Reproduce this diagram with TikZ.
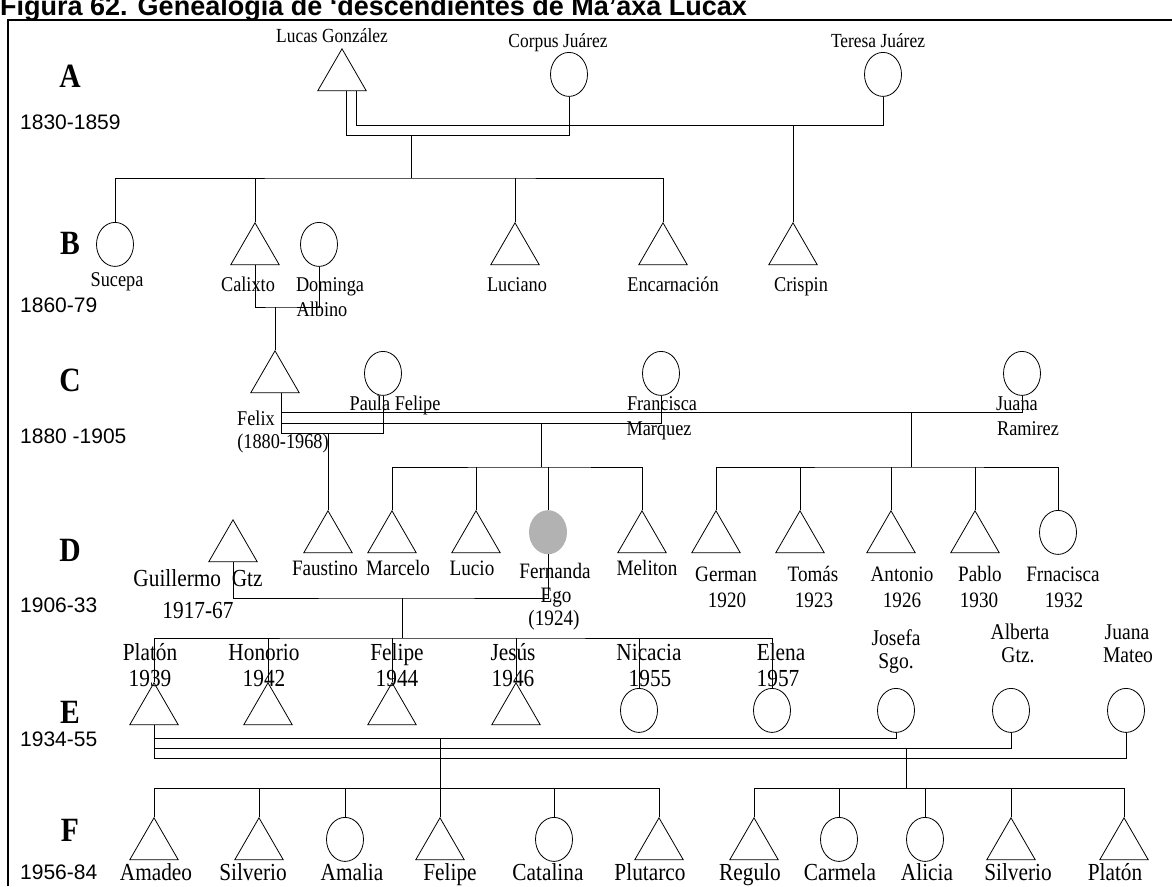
\documentclass[tikz,border=0pt]{standalone}
\usepackage{fontspec}
\setmainfont{Liberation Serif}[FakeStretch=0.87]
\newfontfamily\arialf{Liberation Sans}
\usetikzlibrary{shapes.geometric,calc}
\begin{document}
\begin{tikzpicture}[x=1pt,y=-1pt,
  male/.style={regular polygon,regular polygon sides=3,draw,inner sep=0pt,minimum size=56pt,anchor=north,line width=0.8pt},
  female/.style={ellipse,draw,inner sep=0pt,minimum width=37pt,minimum height=44pt,anchor=north,line width=0.8pt},
  egonode/.style={ellipse,fill=black!30,inner sep=0pt,minimum width=38pt,minimum height=44pt,anchor=north},
  lblA/.style={font=\fontsize{20}{22}\selectfont,inner sep=0pt,anchor=base},
  lbl/.style={font=\fontsize{21}{23}\selectfont,inner sep=0pt,anchor=base},
  lblD/.style={font=\fontsize{22}{24}\selectfont,inner sep=0pt,anchor=base},
  lblE/.style={font=\fontsize{24.5}{26}\selectfont,inner sep=0pt,anchor=base},
  lblW/.style={font=\fontsize{22.5}{24}\selectfont,inner sep=0pt,anchor=base},
  genl/.style={font=\fontsize{34}{34}\selectfont\bfseries,inner sep=0pt},
  yr/.style={font=\arialf\fontsize{21}{22}\selectfont,inner sep=0pt,anchor=west},
  link/.style={line width=0.8pt},
]
\useasboundingbox (0,0) rectangle (1172,886);
\clip (0,0) rectangle (1172,886);
% title and frame
\node[font=\arialf\bfseries\fontsize{27}{27}\selectfont,anchor=base west,inner sep=0pt] (title) at (0,16) {Figura 62. Genealogía de ‘descendientes de Ma’axa Lucax};
\draw[line width=2pt] (8,886) -- (8,20) -- (1172,20);
% generation letters and years
\node[genl] (gA) at (70,76) {A};
\node[yr] (yA) at (20,122) {1830-1859};
\node[genl] (gB) at (70,243) {B};
\node[yr] (yB) at (20,305) {1860-79};
\node[genl] (gC) at (70,380) {C};
\node[yr] (yC) at (20,436) {1880 -1905};
\node[genl] (gD) at (70,550) {D};
\node[yr] (yD) at (20,605) {1906-33};
\node[genl] (gE) at (70,712) {E};
\node[yr] (yE) at (20,739) {1934-55};
\node[genl] (gF) at (70,830) {F};
\node[yr] (yF) at (20,872) {1956-84};
% ---------- generation A
\node[male] (lucas) at (342,48) {};
\node[female] (corpus) at (569,52) {};
\node[female] (teresa) at (883,52) {};
\node[lblA] (lLucas) at (332,42) {Lucas González};
\node[lblA] (lCorpus) at (558,47) {Corpus Juárez};
\node[lblA] (lTeresa) at (878,47) {Teresa Juárez};
% ---------- generation B
\node[female] (sucepa) at (115,222) {};
\node[male] (calixto) at (255,222) {};
\node[female] (dominga) at (319,222) {};
\node[male] (luciano) at (515,222) {};
\node[male] (encarn) at (663,222) {};
\node[male] (crispin) at (793,222) {};
\node[lbl] (lSucepa) at (117,286) {Sucepa};
\node[lbl] (lCalixto) at (248,291) {Calixto};
\node[lbl] (lDominga) at (330,291) {Dominga};
\node[lbl] (lAlbino) at (322,316) {Albino};
\node[lbl] (lLuciano) at (517,291) {Luciano};
\node[lbl] (lEncarn) at (673,291) {Encarnación};
\node[lbl] (lCrispin) at (801,291) {Crispin};
% ---------- generation C
\node[male] (felix) at (275,350) {};
\node[female] (paula) at (383,351) {};
\node[female] (francisca) at (661,351) {};
\node[female] (juanaR) at (1022,351) {};
\node[lbl] (lFelix) at (256,425) {Felix};
\node[lbl] (lFelixY) at (283,448) {(1880-1968)};
\node[lbl] (lPaula) at (395,410) {Paula Felipe};
\node[lbl] (lFrancisca) at (662,410) {Francisca};
\node[lbl] (lMarquez) at (659,435) {Marquez};
\node[lbl] (lJuanaR) at (1017,410) {Juana};
\node[lbl] (lRamirez) at (1028,435) {Ramirez};
% ---------- generation D
\node[male] (guillermo) at (233,519) {};
\node[male] (faustino) at (328,510) {};
\node[male] (marcelo) at (392,510) {};
\node[male] (lucio) at (476,510) {};
\node[egonode] (fernanda) at (548,510) {};
\node[male] (meliton) at (642,510) {};
\node[male] (german) at (716,510) {};
\node[male] (tomas) at (800,510) {};
\node[male] (antonio) at (891,510) {};
\node[male] (pablo) at (975,510) {};
\node[female] (frnacisca) at (1058,510) {};
\node[lblE] (lGuillermo) at (198,586) {Guillermo\ \ Gtz};
\node[lblE] (lGuillermoY) at (198,618) {1917-67};
\node[lblD] (lFaustino) at (325,575) {Faustino};
\node[lblD] (lMarcelo) at (398,575) {Marcelo};
\node[lblD] (lLucio) at (472,575) {Lucio};
\node[lblD] (lFernanda) at (555,578) {Fernanda};
\node[lblD] (lEgo) at (556,602) {Ego};
\node[lblD] (lFernandaY) at (554,625) {(1924)};
\node[lblD] (lMeliton) at (647,575) {Meliton};
\node[lblD] (lGerman) at (726,581) {German};
\node[lblD] (lGermanY) at (727,607) {1920};
\node[lblD] (lTomas) at (813,581) {Tomás};
\node[lblD] (lTomasY) at (814,607) {1923};
\node[lblD] (lAntonio) at (902,581) {Antonio};
\node[lblD] (lAntonioY) at (902,607) {1926};
\node[lblD] (lPablo) at (980,581) {Pablo};
\node[lblD] (lPabloY) at (979,607) {1930};
\node[lblD] (lFrnacisca) at (1063,581) {Frnacisca};
\node[lblD] (lFrnaciscaY) at (1064,607) {1932};
% ---------- generation E
\node[male] (platon) at (154,682) {};
\node[male] (honorio) at (268,682) {};
\node[male] (felipeE) at (392,682) {};
\node[male] (jesus) at (516,682) {};
\node[female] (nicacia) at (639,688) {};
\node[female] (elena) at (772,688) {};
\node[female] (josefa) at (896,688) {};
\node[female] (alberta) at (1011,688) {};
\node[female] (juanaM) at (1126,688) {};
\node[lblE] (lPlaton) at (150,660) {Platón};
\node[lblE] (lPlatonY) at (150,686) {1939};
\node[lblE] (lHonorio) at (264,660) {Honorio};
\node[lblE] (lHonorioY) at (264,686) {1942};
\node[lblE] (lFelipeE) at (397,660) {Felipe};
\node[lblE] (lFelipeEY) at (397,686) {1944};
\node[lblE] (lJesus) at (513,660) {Jesús};
\node[lblE] (lJesusY) at (513,686) {1946};
\node[lblE] (lNicacia) at (649,660) {Nicacia};
\node[lblE] (lNicaciaY) at (650,686) {1955};
\node[lblE] (lElena) at (781,660) {Elena};
\node[lblE] (lElenaY) at (778,686) {1957};
\node[lblW] (lJosefa) at (896,645) {Josefa};
\node[lblW] (lSgo) at (896,668) {Sgo.};
\node[lblW] (lAlberta) at (1020,639) {Alberta};
\node[lblW] (lGtz) at (1018,662) {Gtz.};
\node[lblW] (lJuanaM) at (1127,639) {Juana};
\node[lblW] (lMateo) at (1128,662) {Mateo};
% ---------- generation F
\node[male] (amadeo) at (154,817) {};
\node[male] (silverio) at (259,817) {};
\node[female] (amalia) at (345,817) {};
\node[male] (felipeF) at (440,817) {};
\node[female] (catalina) at (554,817) {};
\node[male] (plutarco) at (659,817) {};
\node[male] (regulo) at (754,817) {};
\node[female] (carmela) at (839,817) {};
\node[female] (alicia) at (925,817) {};
\node[male] (silverioR) at (1011,817) {};
\node[male] (platonF) at (1124,817) {};
\node[lblE] (lAmadeo) at (156,880) {Amadeo};
\node[lblE] (lSilverio) at (253,880) {Silverio};
\node[lblE] (lAmalia) at (352,880) {Amalia};
\node[lblE] (lFelipeF) at (450,880) {Felipe};
\node[lblE] (lCatalina) at (548,880) {Catalina};
\node[lblE] (lPlutarco) at (650,880) {Plutarco};
\node[lblE] (lRegulo) at (750,880) {Regulo};
\node[lblE] (lCarmela) at (840,880) {Carmela};
\node[lblE] (lAlicia) at (927,880) {Alicia};
\node[lblE] (lSilverioR) at (1018,880) {Silverio};
\node[lblE] (lPlatonF) at (1115,880) {Platón};
% ---------- connectors
% A marriages
\coordinate (aOut) at (346,135);
\coordinate (aIn) at (356,125);
\draw[link] (lucas.south -| aOut) -- (aOut) -| (corpus.south);
\draw[link] (lucas.south -| aIn) -- (aIn) -| (teresa.south);
\coordinate (aDown) at (411,135);
\coordinate (bBar) at (411,178);
\draw[link] (aDown) -- (bBar);
\draw[link] (sucepa.north) |- (bBar) -| (encarn.north);
\draw[link] (calixto.north) -- (calixto.north |- bBar);
\draw[link] (luciano.north) -- (luciano.north |- bBar);
\draw[link] (crispin.north) -- (crispin.north |- aIn);
% B marriage
\coordinate (mB) at (275,307);
\draw[link] (calixto.south) |- (mB) -| (dominga.south);
\draw[link] (mB) -- (felix.north);
% C marriages
\coordinate (cT) at (281,412);
\coordinate (cM) at (281,423);
\coordinate (cB) at (281,433);
\draw[link] (felix.south -| cB) -- (cB) -| (paula.south);
\draw[link] (cM) -| (francisca.south);
\draw[link] (cT) -| (juanaR.south);
\draw[link] (faustino.north) -- (faustino.north |- cB);
\coordinate (dBarL) at (541,467);
\draw[link] (dBarL) -- (dBarL |- cM);
\draw[link] (marcelo.north) |- (dBarL) -| (meliton.north);
\draw[link] (lucio.north) -- (lucio.north |- dBarL);
\draw[link] (fernanda.north) -- (fernanda.north |- dBarL);
\coordinate (dBarR) at (911,467);
\draw[link] (dBarR) -- (dBarR |- cT);
\draw[link] (german.north) |- (dBarR) -| (frnacisca.north);
\draw[link] (tomas.north) -- (tomas.north |- dBarR);
\draw[link] (antonio.north) -- (antonio.north |- dBarR);
\draw[link] (pablo.north) -- (pablo.north |- dBarR);
% D marriage
\coordinate (mD) at (402,598);
\draw[link] (guillermo.south) |- (mD) -| (fernanda.south);
\coordinate (eBar) at (402,638);
\draw[link] (mD) -- (eBar);
\draw[link] (platon.north) |- (eBar) -| (elena.north);
\draw[link] (honorio.north) -- (honorio.north |- eBar);
\draw[link] (felipeE.north) -- (felipeE.north |- eBar);
\draw[link] (jesus.north) -- (jesus.north |- eBar);
\draw[link] (nicacia.north) -- (nicacia.north |- eBar);
% E marriages
\coordinate (eT) at (154,738);
\coordinate (eM) at (154,748);
\coordinate (eB) at (154,758);
\draw[link] (platon.south) -- (eB) -| (juanaM.south);
\draw[link] (eT) -| (josefa.south);
\draw[link] (eM) -| (alberta.south);
% F descents
\coordinate (fL) at (440,738);
\coordinate (fBarL) at (440,788);
\draw[link] (fL) -- (felipeF.north);
\draw[link] (amadeo.north) |- (fBarL) -| (plutarco.north);
\draw[link] (silverio.north) -- (silverio.north |- fBarL);
\draw[link] (amalia.north) -- (amalia.north |- fBarL);
\draw[link] (catalina.north) -- (catalina.north |- fBarL);
\coordinate (fR) at (906,748);
\coordinate (fBarR) at (906,788);
\draw[link] (fR) -- (fBarR);
\draw[link] (regulo.north) |- (fBarR) -| (platonF.north);
\draw[link] (carmela.north) -- (carmela.north |- fBarR);
\draw[link] (alicia.north) -- (alicia.north |- fBarR);
\draw[link] (silverioR.north) -- (silverioR.north |- fBarR);
\end{tikzpicture}
\end{document}
